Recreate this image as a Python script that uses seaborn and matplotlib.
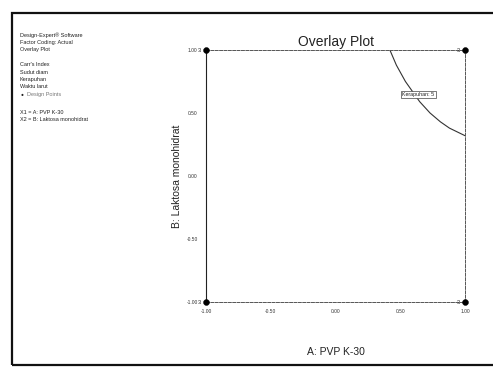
import matplotlib
matplotlib.use("Agg")
import matplotlib.pyplot as plt
import seaborn as sns
import pandas as pd
from matplotlib.patches import Rectangle

sns.set_theme(style="white")
plt.rcParams['font.family'] = ['Liberation Sans', 'DejaVu Sans']

# Data
kerapuhan_x = [0.42, 0.47, 0.54, 0.65, 0.73, 0.81, 0.88, 0.96, 1.00]
kerapuhan_y = [1.00, 0.88, 0.75, 0.59, 0.50, 0.43, 0.38, 0.34, 0.32]
design_x = [-1.0, 1.0, -1.0, 1.0]
design_y = [1.0, 1.0, -1.0, -1.0]
design_count = ["3", "3", "3", "3"]
tick_vals = [-1.0, -0.5, 0.0, 0.5, 1.0]
tick_labels = ["-1.00", "-0.50", "0.00", "0.50", "1.00"]
info_lines = ["Design-Expert\u00ae Software", "Factor Coding: Actual", "Overlay Plot", "",
              "Carr's Index", "Sudut diam", "Kerapuhan", "Waktu larut"]
factor_lines = ["X1 = A: PVP K-30", "X2 = B: Laktosa monohidrat"]

fig = plt.figure(figsize=(4.93, 3.68), dpi=100)
fig.patch.set_facecolor("white")

# outer frame
W, H = 493, 368
fig.add_artist(Rectangle((12 / W, 1 - 365 / H), 1.0, (365 - 13) / H,
                         transform=fig.transFigure, fill=False,
                         edgecolor="#111111", linewidth=1.6))

ax = fig.add_axes([206 / W, 1 - 302 / H, 259 / W, 252 / H])
ax.set_facecolor("white")

curve = pd.DataFrame({"x": kerapuhan_x, "y": kerapuhan_y})
sns.lineplot(data=curve, x="x", y="y", ax=ax, color="#333333", linewidth=0.8,
             sort=False, estimator=None)

pts = pd.DataFrame({"x": design_x, "y": design_y})
sns.scatterplot(data=pts, x="x", y="y", ax=ax, color="black", s=18,
                edgecolor="black", clip_on=False, zorder=5)
for xv, yv, c in zip(design_x, design_y, design_count):
    ax.annotate(c, (xv, yv), xytext=(-3.5, 0), textcoords="offset points",
                ha="right", va="center", fontsize=4, color="#222222")

ax.text(0.64, 0.648, "Kerapuhan: 5", fontsize=3.8, ha="center", va="center",
        color="#222222",
        bbox=dict(boxstyle="square,pad=0.25", facecolor="white",
                  edgecolor="#444444", linewidth=0.5))

ax.set_xlim(-1, 1)
ax.set_ylim(-1, 1)
ax.set_xticks(tick_vals)
ax.set_yticks(tick_vals)
ax.set_xticklabels(tick_labels, fontsize=3.5, color="#333333")
ax.set_yticklabels(tick_labels, fontsize=3.5, color="#333333")
ax.tick_params(axis="x", direction="in", length=3, width=0.5, pad=5, colors="#444444")
ax.tick_params(axis="y", direction="out", length=4, width=0.5, pad=2, colors="#444444")
ax.tick_params(axis="x", labelcolor="#333333")
ax.tick_params(axis="y", labelcolor="#333333")

ax.spines["left"].set_color("#222222")
ax.spines["left"].set_linewidth(0.8)
for s in ["top", "bottom", "right"]:
    ax.spines[s].set_color("#555555")
    ax.spines[s].set_linewidth(0.7)
    ax.spines[s].set_linestyle((0, (3, 1.5)))

ax.set_xlabel("A: PVP K-30", fontsize=7.5, color="#222222", labelpad=24)
ax.set_ylabel("B: Laktosa monohidrat", fontsize=7.5, color="#222222", labelpad=3)
ax.set_title("Overlay Plot", fontsize=10, color="#222222", pad=3)

# left info block
y0 = 35
step = 7.4
for i, line in enumerate(info_lines):
    if line:
        fig.text(20 / W, 1 - (y0 + i * step) / H, line, fontsize=4, color="#222222",
                 va="center", ha="left")
yd = y0 + len(info_lines) * step
fig.text(21 / W, 1 - yd / H, "\u25cf", fontsize=3.5, color="#222222", va="center", ha="left")
fig.text(27 / W, 1 - yd / H, "Design Points", fontsize=4, color="#777777", va="center", ha="left")
yf = 112
for i, line in enumerate(factor_lines):
    fig.text(20 / W, 1 - (yf + i * step) / H, line, fontsize=4, color="#222222",
             va="center", ha="left")

fig.savefig("out.png", dpi=100, facecolor="white")
